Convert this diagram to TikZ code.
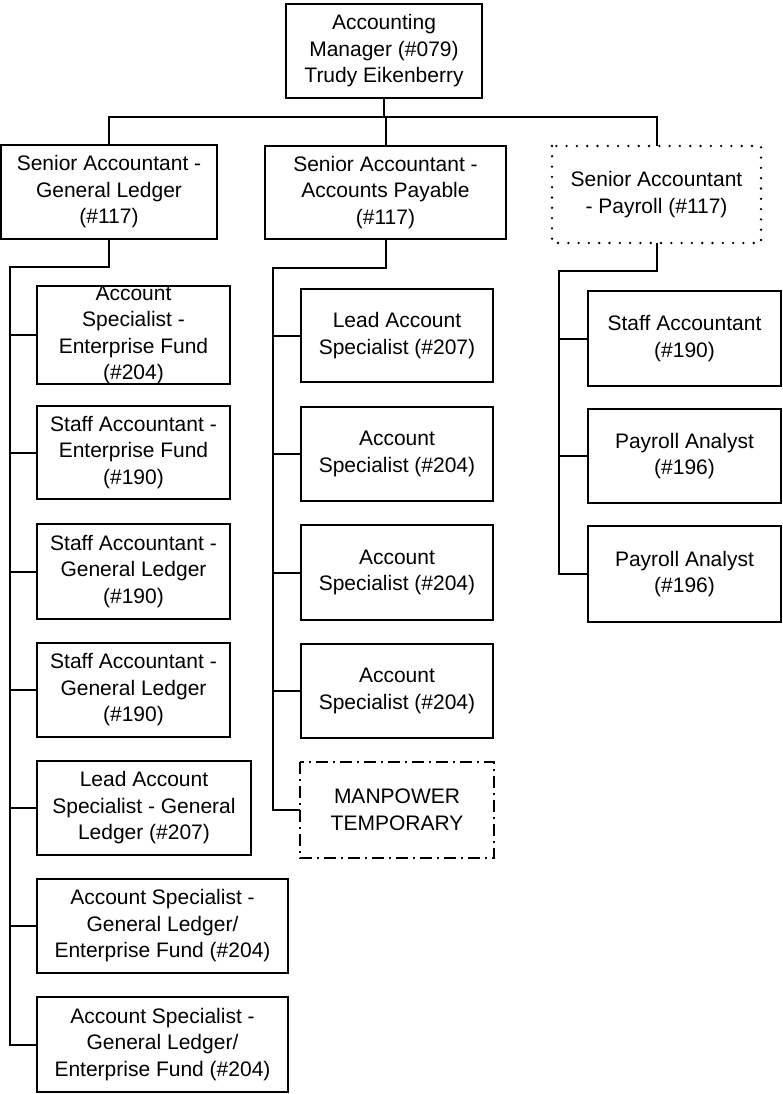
\documentclass[tikz,border=0pt]{standalone}
\usepackage{fontspec}
\setmainfont{Liberation Sans}
\begin{document}
\begin{tikzpicture}[x=1pt,y=-1pt,
  every node/.style={font=\fontsize{21}{26.5}\selectfont, align=center, inner sep=0pt},
  posbox/.style={draw, line width=2pt, rectangle, minimum height=94pt},
  colbox/.style={posbox, minimum width=193pt},
  dotbox/.style={posbox, draw=none},
  link/.style={line width=2pt}]
\useasboundingbox (0,0) rectangle (782,1094);

% manager and the three senior accountants
\node[posbox, minimum width=196pt] (top) at (384,51) {Accounting\\Manager (\#079)\\Trudy Eikenberry};
\node[posbox, minimum width=216pt] (gl) at (109,192) {Senior Accountant -\\General Ledger\\(\#117)};
\node[posbox, minimum width=241pt, minimum height=93pt] (ap) at (385.5,192.5) {Senior Accountant -\\Accounts Payable\\(\#117)};
\node[dotbox, minimum width=207pt, minimum height=95pt] (pr) at (656.5,194.5) {Senior Accountant\\- Payroll (\#117)};
\draw[line width=2.6pt, line cap=round, dash pattern=on 0pt off 10.3pt]
  (pr.north west) rectangle (pr.south east);

% general ledger group
\node[colbox, minimum height=96pt] (L1) at (133.5,335) {Account\\Specialist -\\Enterprise Fund\\(\#204)};
\node[colbox, minimum height=93pt] (L2) at (133.5,452.5) {Staff Accountant -\\Enterprise Fund\\(\#190)};
\node[colbox, minimum height=95pt] (L3) at (133.5,571.5) {Staff Accountant -\\General Ledger\\(\#190)};
\node[colbox] (L4) at (133.5,690) {Staff Accountant -\\General Ledger\\(\#190)};
\node[posbox, minimum width=214pt] (L5) at (144,808) {Lead Account\\Specialist - General\\Ledger (\#207)};
\node[posbox, minimum width=251pt] (L6) at (162.5,926) {Account Specialist -\\General Ledger/\\Enterprise Fund (\#204)};
\node[posbox, minimum width=251pt, minimum height=95pt] (L7) at (162.5,1044.5) {Account Specialist -\\General Ledger/\\Enterprise Fund (\#204)};

% accounts payable group
\node[colbox, minimum width=192pt, minimum height=93pt] (M1) at (397,335.5) {Lead Account\\Specialist (\#207)};
\node[colbox, minimum width=192pt] (M2) at (397,454) {Account\\Specialist (\#204)};
\node[colbox, minimum width=192pt, minimum height=95pt] (M3) at (397,572.5) {Account\\Specialist (\#204)};
\node[colbox, minimum width=192pt] (M4) at (397,691) {Account\\Specialist (\#204)};
\node[dotbox, minimum width=192pt] (M5) at (397,810) {MANPOWER\\TEMPORARY};
\draw[line width=2pt, dash pattern=on 12pt off 5pt on 2pt off 5pt]
  (M5.north west) rectangle (M5.south east);

% payroll group
\node[colbox, minimum height=95pt] (R1) at (684.5,338.5) {Staff Accountant\\(\#190)};
\node[colbox] (R2) at (684.5,456) {Payroll Analyst\\(\#196)};
\node[colbox, minimum height=96pt] (R3) at (684.5,574) {Payroll Analyst\\(\#196)};

% top level connectors
\coordinate (bus) at (0,117);
\draw[link] (top.south) -- (top.south |- bus);
\draw[link] (gl.north) |- (bus -| pr.north) -- (pr.north);
\draw[link] (ap.north) -- (ap.north |- bus);

% trunks
\coordinate (ltrunk) at (10,267);
\coordinate (mtrunk) at (273,268);
\coordinate (rtrunk) at (559,271);
\draw[link] (gl.south) |- (ltrunk) |- (L7.west);
\draw[link] (ap.south) |- (mtrunk) |- (M5.west);
\draw[link] (pr.south) |- (rtrunk) |- (R3.west);

% branches
\foreach \n in {L1,L2,L3,L4,L5,L6}
  \draw[link] (\n.west) -- (\n.west -| ltrunk);
\foreach \n in {M1,M2,M3,M4}
  \draw[link] (\n.west) -- (\n.west -| mtrunk);
\foreach \n in {R1,R2}
  \draw[link] (\n.west) -- (\n.west -| rtrunk);
\end{tikzpicture}
\end{document}
